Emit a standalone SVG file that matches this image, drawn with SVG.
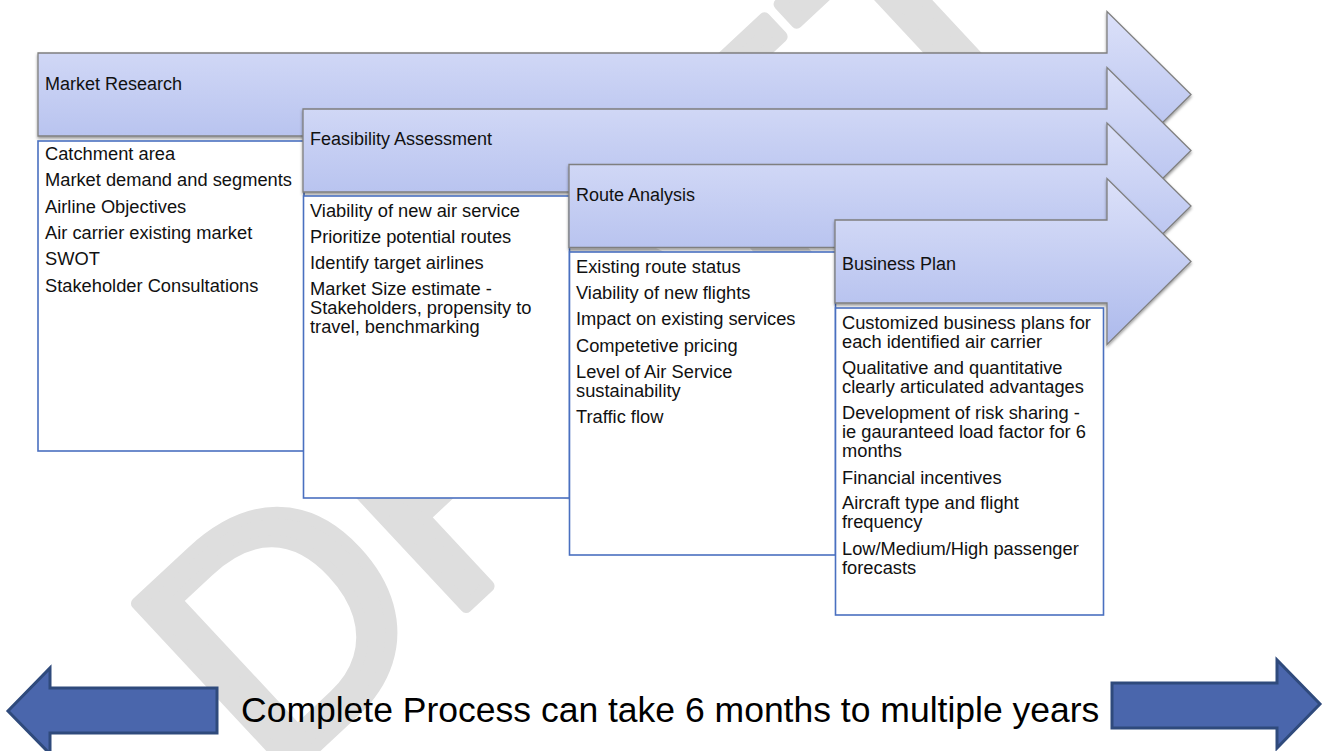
<svg xmlns="http://www.w3.org/2000/svg" width="1323" height="751" viewBox="0 0 1323 751">
  <defs>
    <linearGradient id="hdrFill" x1="0" y1="0" x2="0" y2="1">
      <stop offset="0" stop-color="#dce1f9"/>
      <stop offset="1" stop-color="#adbaec"/>
    </linearGradient>
    <filter id="hdrShadow" x="-5%" y="-10%" width="110%" height="130%">
      <feDropShadow dx="0" dy="2" stdDeviation="1.5" flood-color="#000" flood-opacity="0.4"/>
    </filter>
    <style>
      .hdr { fill: url(#hdrFill); stroke: #7f7f7f; stroke-width: 1.3; filter: url(#hdrShadow); }
      .box { fill: #ffffff; stroke: #4a70c0; stroke-width: 1.6; }
      .title { font-family: "Liberation Sans", Arial, sans-serif; font-size: 18px; fill: #111; }
      .item { font-family: "Liberation Sans", Arial, sans-serif; font-size: 18.3px; fill: #111; }
      .span { fill: #4a66ac; stroke: #2f4a7c; stroke-width: 3; stroke-linejoin: miter; }
      .caption { font-family: "Liberation Sans", Arial, sans-serif; font-size: 35.5px; fill: #000; }
      .mark { font-family: "Liberation Sans", Arial, sans-serif; font-size: 330px; fill: #dedede; stroke: #dedede; stroke-width: 12; stroke-linejoin: round; }
    </style>
  </defs>

  <rect width="1323" height="751" fill="#ffffff"/>

  <!-- background watermark -->
  <text class="mark" transform="translate(272,788) rotate(-43)">DRAFT</text>

  <!-- stage 1 -->
  <g id="market-research">
    <path class="hdr" d="M38,53 H1107 V11.5 L1191,94.5 L1107,177.5 V136 H38 Z"/>
    <text class="title" x="45" y="90">Market Research</text>
    <rect class="box" x="38" y="141" width="266" height="310"/>
    <text class="item" x="45" y="160">Catchment area</text>
    <text class="item" x="45" y="186">Market demand and segments</text>
    <text class="item" x="45" y="213">Airline Objectives</text>
    <text class="item" x="45" y="239">Air carrier existing market</text>
    <text class="item" x="45" y="265">SWOT</text>
    <text class="item" x="45" y="292">Stakeholder Consultations</text>
  </g>

  <!-- stage 2 -->
  <g id="feasibility-assessment">
    <path class="hdr" d="M303,109 H1107 V67.5 L1191,150.5 L1107,233.5 V192 H303 Z"/>
    <text class="title" x="310" y="145">Feasibility Assessment</text>
    <rect class="box" x="303.5" y="196" width="266" height="302"/>
    <text class="item" x="310" y="217">Viability of new air service</text>
    <text class="item" x="310" y="243">Prioritize potential routes</text>
    <text class="item" x="310" y="269">Identify target airlines</text>
    <text class="item" x="310" y="295">Market Size estimate -</text>
    <text class="item" x="310" y="314">Stakeholders, propensity to</text>
    <text class="item" x="310" y="333">travel, benchmarking</text>
  </g>

  <!-- stage 3 -->
  <g id="route-analysis">
    <path class="hdr" d="M569,164.5 H1107 V123 L1191,206 L1107,289 V247.5 H569 Z"/>
    <text class="title" x="576" y="201">Route Analysis</text>
    <rect class="box" x="569.5" y="252" width="266" height="303"/>
    <text class="item" x="576" y="273">Existing route status</text>
    <text class="item" x="576" y="299">Viability of new flights</text>
    <text class="item" x="576" y="325">Impact on existing services</text>
    <text class="item" x="576" y="352">Competetive pricing</text>
    <text class="item" x="576" y="378">Level of Air Service</text>
    <text class="item" x="576" y="397">sustainability</text>
    <text class="item" x="576" y="423">Traffic flow</text>
  </g>

  <!-- stage 4 -->
  <g id="business-plan">
    <path class="hdr" d="M835,220 H1107 V178.5 L1191,261.5 L1107,344.5 V303 H835 Z"/>
    <text class="title" x="842" y="270">Business Plan</text>
    <rect class="box" x="835.5" y="308" width="268" height="307"/>
    <text class="item" x="842" y="329">Customized business plans for</text>
    <text class="item" x="842" y="348">each identified air carrier</text>
    <text class="item" x="842" y="374">Qualitative and quantitative</text>
    <text class="item" x="842" y="393">clearly articulated advantages</text>
    <text class="item" x="842" y="419">Development of risk sharing -</text>
    <text class="item" x="842" y="438">ie gauranteed load factor for 6</text>
    <text class="item" x="842" y="457">months</text>
    <text class="item" x="842" y="484">Financial incentives</text>
    <text class="item" x="842" y="509">Aircraft type and flight</text>
    <text class="item" x="842" y="528">frequency</text>
    <text class="item" x="842" y="555">Low/Medium/High passenger</text>
    <text class="item" x="842" y="574">forecasts</text>
  </g>

  <!-- duration span along the bottom -->
  <g id="connectors">
    <path class="span" d="M217,688 H50 V668 L8,711 L50,754 V733 H217 Z"/>
    <path class="span" d="M1112,683 H1277 V660 L1320,704 L1277,748 V728 H1112 Z"/>
  </g>
  <g id="duration-caption">
    <text class="caption" x="241" y="722">Complete Process can take 6 months to multiple years</text>
  </g>
</svg>
